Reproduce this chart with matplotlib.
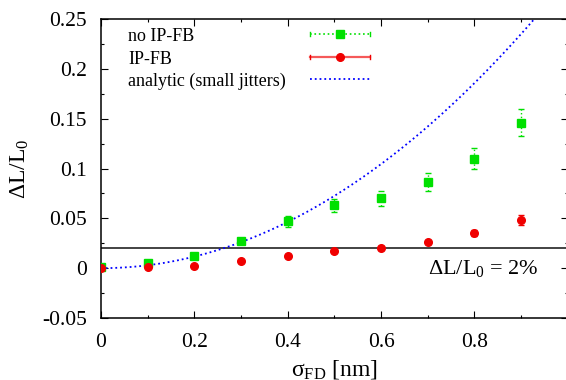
import numpy as np
import matplotlib
matplotlib.use('Agg')
import matplotlib.pyplot as plt
from matplotlib.ticker import MultipleLocator

# 数据
sigma = [0.0, 0.1, 0.2, 0.3, 0.4, 0.5, 0.6, 0.7, 0.8, 0.9]
no_fb = [0.001, 0.005, 0.012, 0.027, 0.047, 0.063, 0.070, 0.086, 0.110, 0.146]
no_fb_err = [0.001, 0.001, 0.002, 0.003, 0.0055, 0.0065, 0.0072, 0.009, 0.011, 0.0135]
fb = [0.0, 0.001, 0.0025, 0.007, 0.0125, 0.0175, 0.0205, 0.026, 0.035, 0.048]
fb_err = [0.0005, 0.0005, 0.001, 0.001, 0.0015, 0.0015, 0.002, 0.002, 0.003, 0.005]
analytic_coef = 0.29   # 解析曲线 dL/L0 ~ a*sigma^2
threshold = 0.02
labels = ['no IP-FB', 'IP-FB', 'analytic (small jitters)']

plt.rcParams['font.family'] = ['Liberation Serif', 'DejaVu Serif']
plt.rcParams['mathtext.fontset'] = 'custom'
plt.rcParams['mathtext.rm'] = 'Liberation Serif'
plt.rcParams['mathtext.it'] = 'Liberation Serif:italic'

green = '#00e000'
red = '#f00000'
blue = '#0000ff'

fig = plt.figure(figsize=(5.66, 3.8), dpi=100)
ax = fig.add_axes([101/566, 1-318/380, 1.003-101/566, 299/380])

# 阈值线
ax.axhline(threshold, color='#222222', lw=1.2, zorder=1)

# 解析曲线
xs = np.linspace(0, 1.0, 200)
ax.plot(xs, analytic_coef*xs**2, ls=':', color=blue, lw=1.3, zorder=2)

# no IP-FB
eb1 = ax.errorbar(sigma, no_fb, yerr=no_fb_err, fmt='s', color=green, ms=6,
                  capsize=2, elinewidth=1, capthick=1, zorder=3)
eb1[2][0].set_linestyle(':')

# IP-FB
ax.errorbar(sigma, fb, yerr=fb_err, fmt='o', color=red, ms=5.5,
            capsize=2, elinewidth=1, capthick=1, zorder=4)

ax.text(0.70, 0.0, 'ΔL/L$_0$ = 2%', fontsize=16, va='center', ha='left')

ax.set_xlim(0, 1.0)
ax.set_ylim(-0.05, 0.25)
ax.xaxis.set_minor_locator(MultipleLocator(0.1))
ax.yaxis.set_minor_locator(MultipleLocator(0.025))
ax.set_xticks([0, 0.2, 0.4, 0.6, 0.8])
ax.set_xticklabels(['0', '0.2', '0.4', '0.6', '0.8'])
ax.set_yticks([-0.05, 0, 0.05, 0.1, 0.15, 0.2, 0.25])
ax.set_yticklabels(['-0.05', '0', '0.05', '0.1', '0.15', '0.2', '0.25'])
ax.tick_params(which='both', direction='in', top=True, right=True, labelsize=15.5)
ax.tick_params(which='major', length=5, width=0.8)
ax.tick_params(which='minor', length=2.5, width=0.8)
ax.tick_params(axis='x', pad=10.5)
ax.tick_params(axis='y', pad=10)
for s in ax.spines.values():
    s.set_linewidth(1.1)

ax.set_xlabel('σ$_{\\rm FD}$ [nm]', fontsize=17, labelpad=4.5)
ax.set_ylabel('ΔL/L$_0$', fontsize=17, labelpad=8)

# 图例（文字在左，样式在右）
tr = ax.transAxes
rows = [0.95, 0.873, 0.799]
tx, x0, xm, x1 = 0.058, 0.447, 0.512, 0.576
for lab, r in zip(labels, rows):
    ax.text(tx, r - 0.008, lab, transform=tr, fontsize=13, va='center')
ax.plot([x0, x1], [rows[0]]*2, ls=':', color=green, lw=1.2, transform=tr)
ax.plot([x0, x0], [rows[0]-0.008, rows[0]+0.008], color=green, lw=1, transform=tr)
ax.plot([x1, x1], [rows[0]-0.008, rows[0]+0.008], color=green, lw=1, transform=tr)
ax.plot([xm], [rows[0]], 's', color=green, ms=6, transform=tr)
ax.plot([x0, x1], [rows[1]]*2, ls='-', color=red, lw=1.6, alpha=0.65, transform=tr)
ax.plot([x0, x0], [rows[1]-0.008, rows[1]+0.008], color=red, lw=1, transform=tr)
ax.plot([x1, x1], [rows[1]-0.008, rows[1]+0.008], color=red, lw=1, transform=tr)
ax.plot([xm], [rows[1]], 'o', color=red, ms=5.5, transform=tr)
ax.plot([x0, x1], [rows[2]]*2, ls=':', color=blue, lw=1.3, transform=tr)

fig.savefig('out.png', dpi=100)
